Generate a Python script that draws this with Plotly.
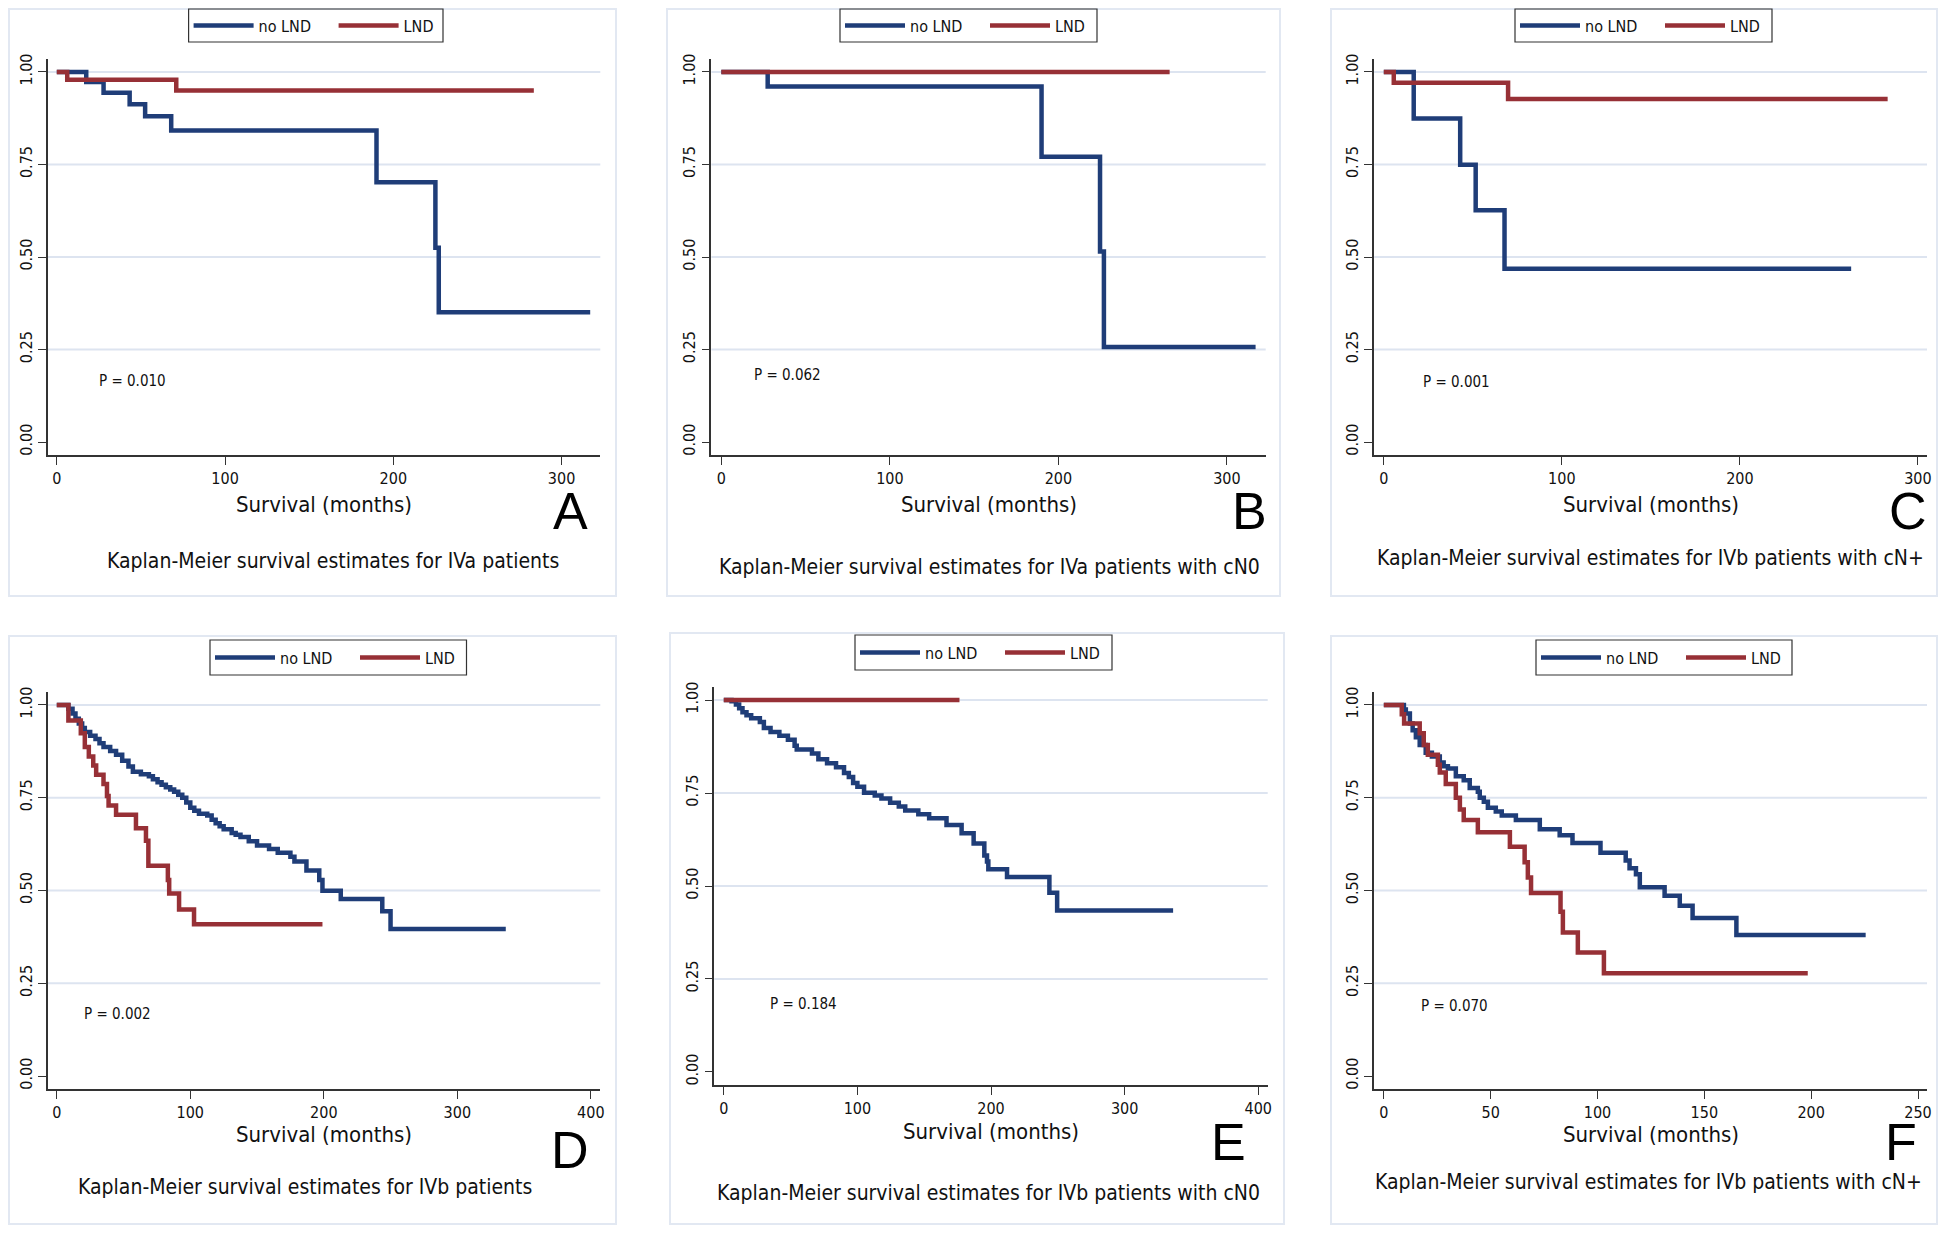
import plotly.graph_objects as go

# ---------------- data ----------------
A_no_t = [0, 17.5, 27.8, 43.3, 52.5, 68, 190, 225, 227, 317]
A_no_s = [1.0, 0.973, 0.944, 0.913, 0.880, 0.842, 0.702, 0.525, 0.351, 0.351]
A_lnd_t = [0, 6.2, 71, 283.5]
A_lnd_s = [1.0, 0.979, 0.950, 0.950]

B_no_t = [0, 27.5, 190, 224.7, 227, 317]
B_no_s = [1.0, 0.961, 0.771, 0.515, 0.257, 0.257]
B_lnd_t = [0, 266]
B_lnd_s = [1.0, 1.0]

C_no_t = [0, 16.8, 42.9, 51.6, 67.8, 262.5]
C_no_s = [1.0, 0.874, 0.749, 0.626, 0.468, 0.468]
C_lnd_t = [0, 5.6, 69.8, 283]
C_lnd_s = [1.0, 0.971, 0.927, 0.927]

D_no_t = [0, 8.7, 11.8, 14, 16.5, 19, 21, 25, 29, 32, 35, 40, 44.4, 49, 53.7, 57, 63, 69,
          72, 75.5, 78.5, 81.7, 85, 87.9, 91, 94, 97, 100, 103, 106.5, 112.7, 116, 119,
          122, 125, 131, 134, 137.6, 143.8, 150, 159, 165.5, 175, 178, 187, 196.6, 199,
          212.7, 243.8, 250, 336.3]
D_no_s = [1.0, 0.990, 0.977, 0.963, 0.950, 0.938, 0.927, 0.917, 0.908, 0.897, 0.887, 0.876,
          0.866, 0.850, 0.834, 0.820, 0.813, 0.808, 0.800, 0.792, 0.785, 0.778, 0.772, 0.766,
          0.758, 0.750, 0.737, 0.723, 0.715, 0.707, 0.702, 0.691, 0.681, 0.673, 0.665, 0.655,
          0.650, 0.644, 0.633, 0.621, 0.612, 0.602, 0.591, 0.578, 0.554, 0.528, 0.499, 0.477,
          0.444, 0.396, 0.396]
D_lnd_t = [0, 8.7, 18, 21, 24, 27.3, 29.5, 35, 37.6, 38.8, 44.4, 59.3, 66.8, 68.6, 83.2,
           84.2, 91.6, 102.8, 199]
D_lnd_s = [1.0, 0.958, 0.924, 0.887, 0.861, 0.837, 0.812, 0.787, 0.755, 0.729, 0.704, 0.668,
           0.634, 0.567, 0.528, 0.492, 0.449, 0.409, 0.409]

E_no_t = [0, 5.8, 9.1, 11.5, 14, 17, 20.5, 27, 30, 35, 41.6, 48, 53, 54.6, 66, 70.8, 77.3,
          84, 90, 93.6, 96.8, 100, 105, 113, 118, 124.5, 131, 135.8, 145.6, 153.7, 166.7,
          178, 187, 195, 197, 198, 212, 243.7, 249.5, 336.3]
E_no_s = [1.0, 0.997, 0.988, 0.978, 0.967, 0.959, 0.951, 0.941, 0.925, 0.914, 0.904, 0.893,
          0.877, 0.867, 0.856, 0.841, 0.830, 0.819, 0.804, 0.793, 0.777, 0.767, 0.751, 0.743,
          0.735, 0.724, 0.714, 0.703, 0.693, 0.682, 0.664, 0.642, 0.614, 0.582, 0.566, 0.545,
          0.524, 0.482, 0.434, 0.434]
E_lnd_t = [0, 176.4]
E_lnd_s = [1.0, 1.0]

F_no_t = [0, 9.4, 10.3, 12.2, 13.5, 15, 16.8, 19.6, 22.5, 26.2, 28, 30, 33.7, 37.4, 40.2, 44,
          44.9, 46.8, 48.7, 52.4, 55.2, 61.8, 73, 82.3, 88.3, 101.4, 113.2, 115, 118, 119.8,
          131.4, 138.5, 144.5, 165, 225.5]
F_no_s = [1.0, 0.988, 0.977, 0.950, 0.932, 0.913, 0.892, 0.871, 0.861, 0.845, 0.835, 0.829,
          0.808, 0.797, 0.776, 0.766, 0.750, 0.739, 0.723, 0.713, 0.702, 0.690, 0.665, 0.649,
          0.628, 0.602, 0.581, 0.560, 0.544, 0.509, 0.486, 0.459, 0.426, 0.380, 0.380]
F_lnd_t = [0, 8.4, 9.5, 16.8, 18.7, 20.6, 25.3, 26.2, 29, 33.7, 35.6, 37.4, 44, 59, 65.9,
           67.4, 68.9, 82.7, 83.8, 90.8, 103, 198.4]
F_lnd_s = [1.0, 0.975, 0.950, 0.924, 0.892, 0.866, 0.839, 0.818, 0.787, 0.750, 0.718, 0.690,
           0.657, 0.618, 0.576, 0.535, 0.493, 0.443, 0.387, 0.333, 0.277, 0.277]

series_names = ["no LND", "LND"]
panel_letters = ["A", "B", "C", "D", "E", "F"]
p_values = ["P = 0.010", "P = 0.062", "P = 0.001", "P = 0.002", "P = 0.184", "P = 0.070"]
panel_titles = [
    "Kaplan-Meier survival estimates for IVa patients",
    "Kaplan-Meier survival estimates for IVa patients with cN0",
    "Kaplan-Meier survival estimates for IVb patients with cN+",
    "Kaplan-Meier survival estimates for IVb patients",
    "Kaplan-Meier survival estimates for IVb patients with cN0",
    "Kaplan-Meier survival estimates for IVb patients with cN+",
]
x_axis_title = "Survival (months)"
y_ticks = [0, 0.25, 0.5, 0.75, 1.0]
x_ticks = [
    [0, 100, 200, 300],
    [0, 100, 200, 300],
    [0, 100, 200, 300],
    [0, 100, 200, 300, 400],
    [0, 100, 200, 300, 400],
    [0, 50, 100, 150, 200, 250],
]
p_pos = [(24, 0.165), (18, 0.18), (21, 0.162), (19, 0.167), (33, 0.183), (16.5, 0.188)]

curves = [
    ((A_no_t, A_no_s), (A_lnd_t, A_lnd_s)),
    ((B_no_t, B_no_s), (B_lnd_t, B_lnd_s)),
    ((C_no_t, C_no_s), (C_lnd_t, C_lnd_s)),
    ((D_no_t, D_no_s), (D_lnd_t, D_lnd_s)),
    ((E_no_t, E_no_s), (E_lnd_t, E_lnd_s)),
    ((F_no_t, F_no_s), (F_lnd_t, F_lnd_s)),
]

# ---------------- layout geometry (pixels of the 1946x1233 page) ----------------
OFF = 8                      # default body margin of the html page
W, H = 1946 - 2 * OFF, 1233 - 2 * OFF


def fx(px):
    return (px - OFF) / W


def fy(py):
    return 1 - (py - OFF) / H


# plot area: x0, x1, y_top, y_bottom
plot_px = [
    (47.7, 600.3, 59, 455),
    (711.4, 1265.7, 59, 455),
    (1374.2, 1927, 59, 455),
    (47.7, 600.3, 692, 1089),
    (714.3, 1267.7, 687, 1085),
    (1374.2, 1927, 692, 1089),
]
x_ranges = [(-5.4, 323), (-5.9, 323), (-5.4, 305.1), (-6.8, 407.1), (-7.1, 407.1), (-4.5, 254.2)]
y_range = (-0.035, 1.035)
# outer panel boxes: x0, x1, y0, y1
box_px = [
    (9, 616, 9, 596),
    (667, 1280, 9, 596),
    (1331, 1937, 9, 596),
    (9, 616, 636, 1224),
    (670, 1284, 633, 1224),
    (1331, 1937, 636, 1224),
]
# legend boxes: x0, x1, y0, y1
legend_box_px = [
    (188.6, 443, 9, 42),
    (840, 1097, 9, 42),
    (1515, 1772, 9, 42),
    (210, 466.5, 640, 675),
    (855, 1112, 635, 670),
    (1536, 1792, 640, 675),
]
xlabel_y = [504, 504, 504, 1134, 1131, 1134]
letter_px = [(570, 511), (1249, 511), (1908, 511), (570, 1150), (1228, 1142), (1901, 1142)]
title_px = [(333, 561), (990, 567), (1650, 558), (305, 1187), (988, 1193), (1648, 1182)]

NAVY = "#1f3d78"
MAROON = "#973036"
colors = [NAVY, MAROON]
FONT = "DejaVu Sans Condensed, Liberation Sans Narrow, Arial Narrow, sans-serif"
GRID = "#dde4f0"

fig = go.Figure()
layout = dict(
    width=W, height=H, autosize=False,
    margin=dict(l=0, r=0, t=0, b=0, autoexpand=False),
    paper_bgcolor="white", plot_bgcolor="white",
    font=dict(family=FONT, color="#111"),
    shapes=[], annotations=[],
)

for i in range(6):
    n = i + 1
    xa = "x" if n == 1 else f"x{n}"
    ya = "y" if n == 1 else f"y{n}"
    leg = "legend" if n == 1 else f"legend{n}"
    x0, x1, yt, yb = plot_px[i]
    for j, (t, s) in enumerate(curves[i]):
        fig.add_trace(go.Scatter(
            x=t, y=s, mode="lines", name=series_names[j],
            line=dict(color=colors[j], width=4.5, shape="hv"),
            xaxis=xa, yaxis=ya, legend=leg, showlegend=True, hoverinfo="skip",
        ))
    xkey = "xaxis" if n == 1 else f"xaxis{n}"
    ykey = "yaxis" if n == 1 else f"yaxis{n}"
    layout[xkey] = dict(
        domain=[fx(x0), fx(x1)], range=list(x_ranges[i]), anchor=ya, automargin=False,
        showgrid=False, zeroline=False, showline=True, linecolor="#333", linewidth=1.5,
        ticks="outside", ticklen=8, tickwidth=1.2, tickcolor="#333",
        tickvals=x_ticks[i], ticktext=[str(v) for v in x_ticks[i]],
        tickfont=dict(size=16, family=FONT, color="#111"),
    )
    layout[ykey] = dict(
        domain=[fy(yb), fy(yt)], range=list(y_range), anchor=xa, automargin=False,
        showgrid=False, zeroline=False, showline=True, linecolor="#333", linewidth=1.5,
        ticks="outside", ticklen=8, tickwidth=1.2, tickcolor="#333",
        tickvals=y_ticks, tickformat=".2f", tickangle=-90,
        tickfont=dict(size=16, family=FONT, color="#111"),
    )
    # gridlines (not at 0)
    for v in y_ticks[1:]:
        layout["shapes"].append(dict(
            type="line", xref=f"{xa} domain", yref=ya, x0=0, x1=1, y0=v, y1=v,
            line=dict(color=GRID, width=2), layer="below",
        ))
    # panel box
    bx0, bx1, by0, by1 = box_px[i]
    layout["shapes"].append(dict(
        type="rect", xref="paper", yref="paper",
        x0=fx(bx0), x1=fx(bx1), y0=fy(by1), y1=fy(by0),
        line=dict(color="#e2e8f2", width=2), layer="below",
    ))
    # legend box + legend
    lx0, lx1, ly0, ly1 = legend_box_px[i]
    layout["shapes"].append(dict(
        type="rect", xref="paper", yref="paper",
        x0=fx(lx0), x1=fx(lx1), y0=fy(ly1), y1=fy(ly0),
        line=dict(color="#333", width=1.2), fillcolor="rgba(0,0,0,0)", layer="above",
    ))
    layout[leg] = dict(
        orientation="h", xref="container", yref="container",
        x=fx(lx0), y=fy((ly0 + ly1) / 2), xanchor="left", yanchor="middle",
        borderwidth=0, bgcolor="rgba(0,0,0,0)",
        font=dict(size=16, family=FONT, color="#111"),
        entrywidth=70, entrywidthmode="pixels", itemwidth=60,
        traceorder="normal",
    )
    # p-value
    px, py = p_pos[i]
    layout["annotations"].append(dict(
        x=px, y=py, xref=xa, yref=ya, text=p_values[i], showarrow=False,
        xanchor="left", yanchor="middle", font=dict(size=15, family=FONT, color="#111"),
    ))
    # x axis title
    layout["annotations"].append(dict(
        x=fx((x0 + x1) / 2), y=fy(xlabel_y[i]), xref="paper", yref="paper",
        text=x_axis_title, showarrow=False, xanchor="center", yanchor="middle",
        font=dict(size=22, family=FONT, color="#111"),
    ))
    # letter
    lx2, ly2 = letter_px[i]
    layout["annotations"].append(dict(
        x=fx(lx2), y=fy(ly2), xref="paper", yref="paper",
        text=panel_letters[i], showarrow=False, xanchor="center", yanchor="middle",
        font=dict(size=52, family="Liberation Sans, Arial, sans-serif", color="#000"),
    ))
    # panel title
    tx, ty = title_px[i]
    layout["annotations"].append(dict(
        x=fx(tx), y=fy(ty), xref="paper", yref="paper",
        text=panel_titles[i], showarrow=False, xanchor="center", yanchor="middle",
        font=dict(size=21, family=FONT, color="#111"),
    ))

fig.update_layout(**layout)
fig.write_html("out.html")
